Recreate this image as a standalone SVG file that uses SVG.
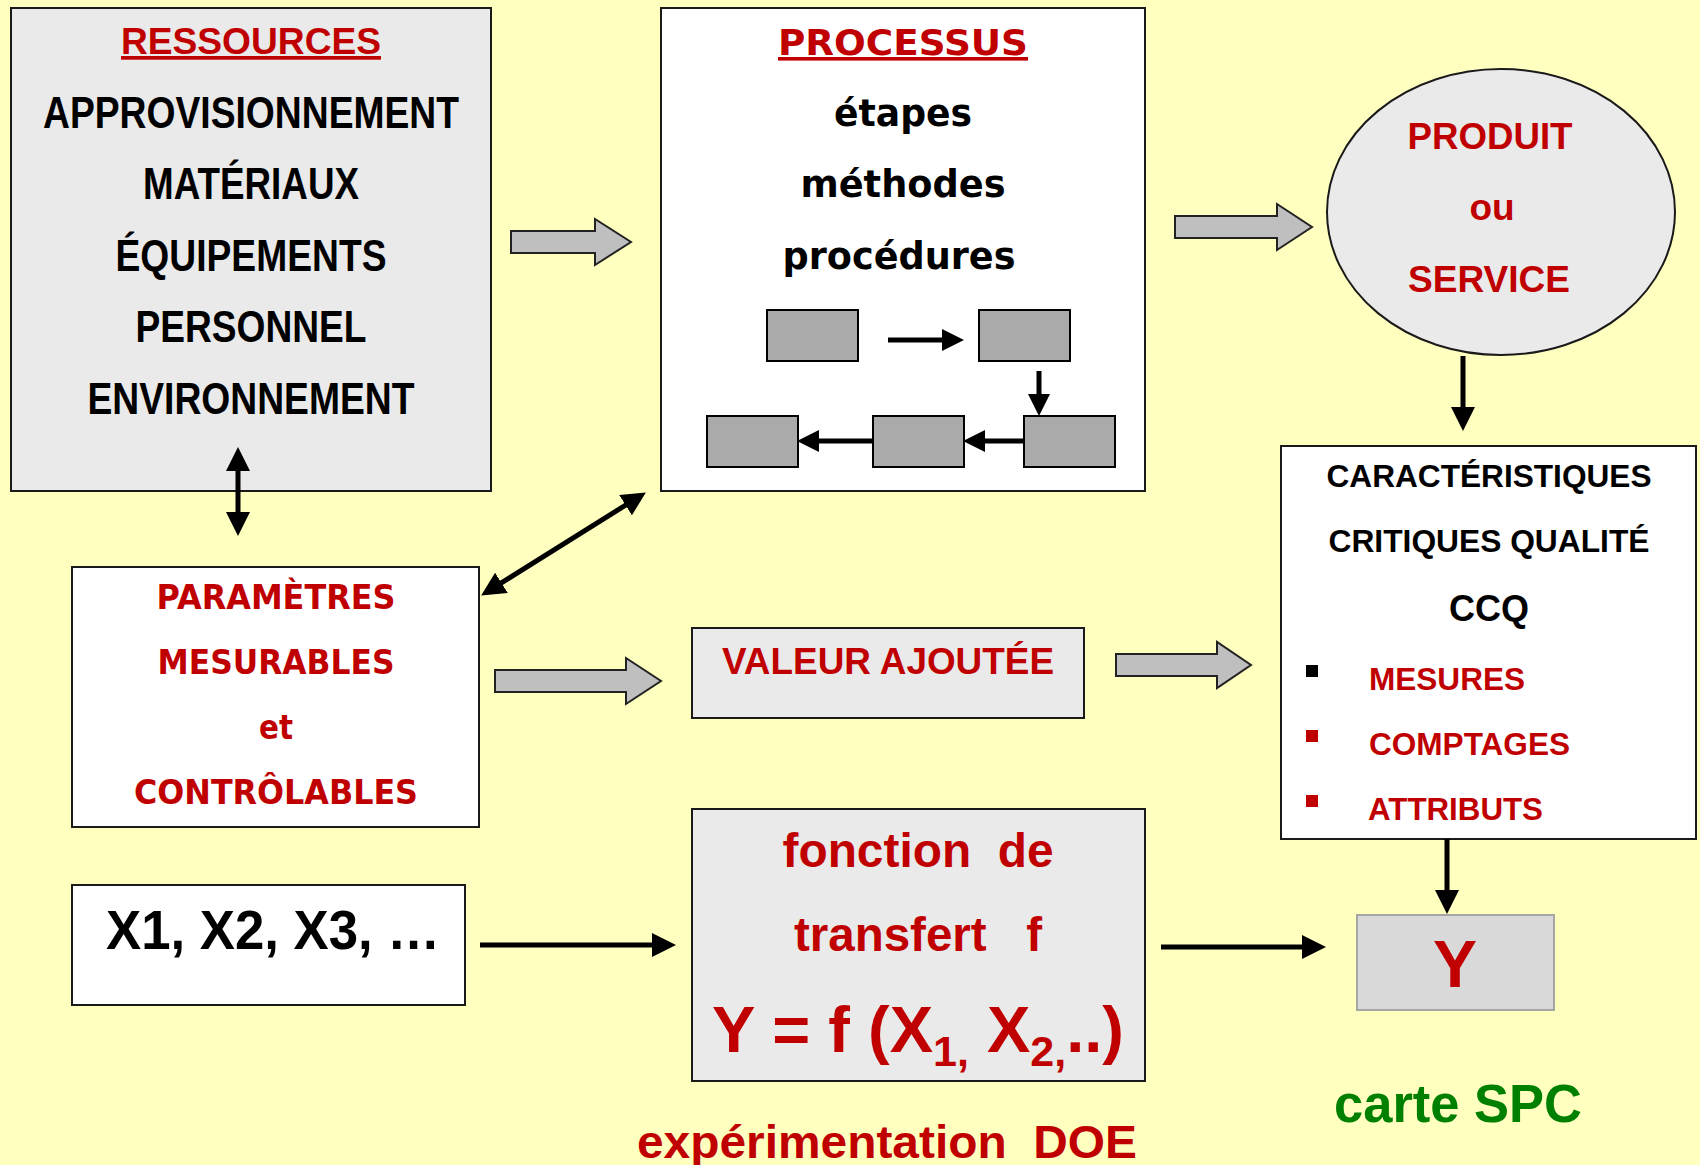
<svg xmlns="http://www.w3.org/2000/svg" width="1700" height="1165" viewBox="0 0 1700 1165">
  <style>
    .box { stroke: #1a1a1a; stroke-width: 2; }
    .gray { fill: #EAEAEA; }
    .white { fill: #FFFFFF; }
    .step { fill: #AAAAAA; stroke: #000; stroke-width: 2; }
    .block { fill: #BFBFBF; stroke: #222; stroke-width: 2; stroke-linejoin: miter; }
    .link { stroke: #000; stroke-width: 5; fill: none; }
    .sans { font-family: "Liberation Sans", Arial, sans-serif; font-weight: bold; text-anchor: middle; fill: #000; }
    .verd { font-family: "DejaVu Sans", Verdana, sans-serif; font-weight: bold; text-anchor: middle; fill: #000; }
    .start { text-anchor: start; }
    .red { fill: #C00000; }
    .green { fill: #008000; }
  </style>
  <defs>
    <marker id="ah" viewBox="0 0 20 20" refX="10" refY="10" markerWidth="24" markerHeight="24" markerUnits="userSpaceOnUse" orient="auto-start-reverse">
      <path d="M0,0 L20,10 L0,20 z" fill="#000"/>
    </marker>
    <marker id="ahs" viewBox="0 0 20 20" refX="10" refY="10" markerWidth="22" markerHeight="22" markerUnits="userSpaceOnUse" orient="auto-start-reverse">
      <path d="M0,0 L20,10 L0,20 z" fill="#000"/>
    </marker>
  </defs>

  <rect x="0" y="0" width="1700" height="1165" fill="#FFFFC0"/>

  <!-- Resources -->
  <g id="ressources">
    <rect class="box gray" x="11" y="8" width="480" height="483"/>
    <text class="sans red" x="251" y="54" font-size="37" text-decoration="underline" textLength="260" lengthAdjust="spacingAndGlyphs">RESSOURCES</text>
    <text class="sans" x="251" y="128" font-size="44" textLength="416" lengthAdjust="spacingAndGlyphs">APPROVISIONNEMENT</text>
    <text class="sans" x="251" y="199" font-size="44" textLength="216" lengthAdjust="spacingAndGlyphs">MATÉRIAUX</text>
    <text class="sans" x="251" y="271" font-size="44" textLength="271" lengthAdjust="spacingAndGlyphs">ÉQUIPEMENTS</text>
    <text class="sans" x="251" y="342" font-size="44" textLength="231" lengthAdjust="spacingAndGlyphs">PERSONNEL</text>
    <text class="sans" x="251" y="414" font-size="44" textLength="327" lengthAdjust="spacingAndGlyphs">ENVIRONNEMENT</text>
  </g>

  <!-- Process -->
  <g id="processus">
    <rect class="box white" x="661" y="8" width="484" height="483"/>
    <text class="verd red" x="903" y="55" font-size="36" text-decoration="underline" textLength="250" lengthAdjust="spacingAndGlyphs">PROCESSUS</text>
    <text class="verd" x="903" y="126" font-size="37" textLength="138" lengthAdjust="spacingAndGlyphs">étapes</text>
    <text class="verd" x="903" y="197" font-size="37" textLength="205" lengthAdjust="spacingAndGlyphs">méthodes</text>
    <text class="verd" x="899" y="269" font-size="37" textLength="233" lengthAdjust="spacingAndGlyphs">procédures</text>
    <rect class="step" x="767" y="310" width="91" height="51"/>
    <rect class="step" x="979" y="310" width="91" height="51"/>
    <rect class="step" x="707" y="416" width="91" height="51"/>
    <rect class="step" x="873" y="416" width="91" height="51"/>
    <rect class="step" x="1024" y="416" width="91" height="51"/>
    <line class="link" x1="888" y1="340" x2="953" y2="340" stroke-width="6" marker-end="url(#ahs)"/>
    <line class="link" x1="1039" y1="371" x2="1039" y2="405" stroke-width="6" marker-end="url(#ahs)"/>
    <line class="link" x1="1024" y1="441" x2="974" y2="441" stroke-width="6" marker-end="url(#ahs)"/>
    <line class="link" x1="873" y1="441" x2="808" y2="441" stroke-width="6" marker-end="url(#ahs)"/>
  </g>

  <!-- Product or service -->
  <g id="produit">
    <ellipse class="box gray" cx="1501" cy="212" rx="174" ry="143"/>
    <text class="sans red" x="1490" y="149" font-size="37" textLength="165" lengthAdjust="spacingAndGlyphs">PRODUIT</text>
    <text class="sans red" x="1492" y="220" font-size="37">ou</text>
    <text class="sans red" x="1489" y="292" font-size="37" textLength="162" lengthAdjust="spacingAndGlyphs">SERVICE</text>
  </g>

  <!-- Critical quality characteristics -->
  <g id="ccq">
    <rect class="box white" x="1281" y="446" width="415" height="393"/>
    <text class="sans" x="1489" y="487" font-size="32" textLength="325" lengthAdjust="spacingAndGlyphs">CARACTÉRISTIQUES</text>
    <text class="sans" x="1489" y="552" font-size="32" textLength="321" lengthAdjust="spacingAndGlyphs">CRITIQUES QUALITÉ</text>
    <text class="sans" x="1489" y="621" font-size="36" textLength="80" lengthAdjust="spacingAndGlyphs">CCQ</text>
    <rect x="1306" y="665" width="12" height="12" fill="#000"/>
    <rect x="1306" y="730" width="12" height="12" fill="#C00000"/>
    <rect x="1306" y="795" width="12" height="12" fill="#C00000"/>
    <text class="sans red start" x="1369" y="690" font-size="31" textLength="156" lengthAdjust="spacingAndGlyphs">MESURES</text>
    <text class="sans red start" x="1369" y="755" font-size="31" textLength="201" lengthAdjust="spacingAndGlyphs">COMPTAGES</text>
    <text class="sans red start" x="1368" y="820" font-size="31" textLength="175" lengthAdjust="spacingAndGlyphs">ATTRIBUTS</text>
  </g>

  <!-- Output Y -->
  <g id="sortie-y">
    <rect x="1357" y="915" width="197" height="95" fill="#D9D9D9" stroke="#A6A6A6" stroke-width="2"/>
    <text class="sans red" x="1455" y="987" font-size="66">Y</text>
  </g>

  <g id="carte-spc">
    <text class="sans green" x="1458" y="1122" font-size="53" textLength="248" lengthAdjust="spacingAndGlyphs">carte SPC</text>
  </g>

  <!-- Added value -->
  <g id="valeur-ajoutee">
    <rect class="box gray" x="692" y="628" width="392" height="90"/>
    <text class="sans red" x="888" y="674" font-size="36" textLength="332" lengthAdjust="spacingAndGlyphs">VALEUR AJOUTÉE</text>
  </g>

  <!-- Transfer function -->
  <g id="fonction-transfert">
    <rect class="box gray" x="692" y="809" width="453" height="272"/>
    <text class="sans red" x="918" y="867" font-size="48" textLength="271" lengthAdjust="spacingAndGlyphs" xml:space="preserve">fonction  de</text>
    <text class="sans red" x="918" y="951" font-size="48" textLength="248" lengthAdjust="spacingAndGlyphs" xml:space="preserve">transfert   f</text>
    <text class="sans red" x="918" y="1052" font-size="65" xml:space="preserve">Y = f (X<tspan font-size="43" dy="14">1,</tspan><tspan dy="-14"> X</tspan><tspan font-size="43" dy="14">2,</tspan><tspan dy="-14">..)</tspan></text>
  </g>

  <g id="doe">
    <text class="sans red" x="887" y="1158" font-size="47" textLength="500" lengthAdjust="spacingAndGlyphs" xml:space="preserve">expérimentation  DOE</text>
  </g>

  <!-- Parameters -->
  <g id="parametres">
    <rect class="box white" x="72" y="567" width="407" height="260"/>
    <text class="verd red" x="276" y="609" font-size="33" textLength="239" lengthAdjust="spacingAndGlyphs">PARAMÈTRES</text>
    <text class="verd red" x="276" y="674" font-size="33" textLength="237" lengthAdjust="spacingAndGlyphs">MESURABLES</text>
    <text class="verd red" x="276" y="739" font-size="33" textLength="34" lengthAdjust="spacingAndGlyphs">et</text>
    <text class="verd red" x="276" y="804" font-size="33" textLength="284" lengthAdjust="spacingAndGlyphs">CONTRÔLABLES</text>
  </g>

  <!-- Input variables -->
  <g id="variables-x">
    <rect class="box white" x="72" y="885" width="393" height="120"/>
    <text class="sans start" x="106" y="949" font-size="56" textLength="334" lengthAdjust="spacingAndGlyphs">X1, X2, X3, …</text>
  </g>

  <!-- Connectors -->
  <g id="connecteurs">
    <polygon class="block" points="511,231 595,231 595,219 631,242 595,265 595,253 511,253"/>
    <polygon class="block" points="1175,216 1277,216 1277,204 1312,227 1277,250 1277,238 1175,238"/>
    <polygon class="block" points="495,670 626,670 626,658 661,681 626,704 626,692 495,692"/>
    <polygon class="block" points="1116,654 1217,654 1217,642 1251,665 1217,688 1217,676 1116,676"/>
    <line class="link" x1="238" y1="459" x2="238" y2="524" stroke-width="6" marker-start="url(#ah)" marker-end="url(#ah)"/>
    <line class="link" x1="635.7" y1="498.8" x2="491.3" y2="589.2" marker-start="url(#ah)" marker-end="url(#ah)"/>
    <line class="link" x1="480" y1="945" x2="664" y2="945" marker-end="url(#ah)"/>
    <line class="link" x1="1161" y1="947" x2="1314" y2="947" marker-end="url(#ah)"/>
    <line class="link" x1="1463" y1="356" x2="1463" y2="419" stroke-width="7" marker-end="url(#ah)"/>
    <line class="link" x1="1447" y1="839" x2="1447" y2="902" stroke-width="6" marker-end="url(#ah)"/>
  </g>
</svg>
